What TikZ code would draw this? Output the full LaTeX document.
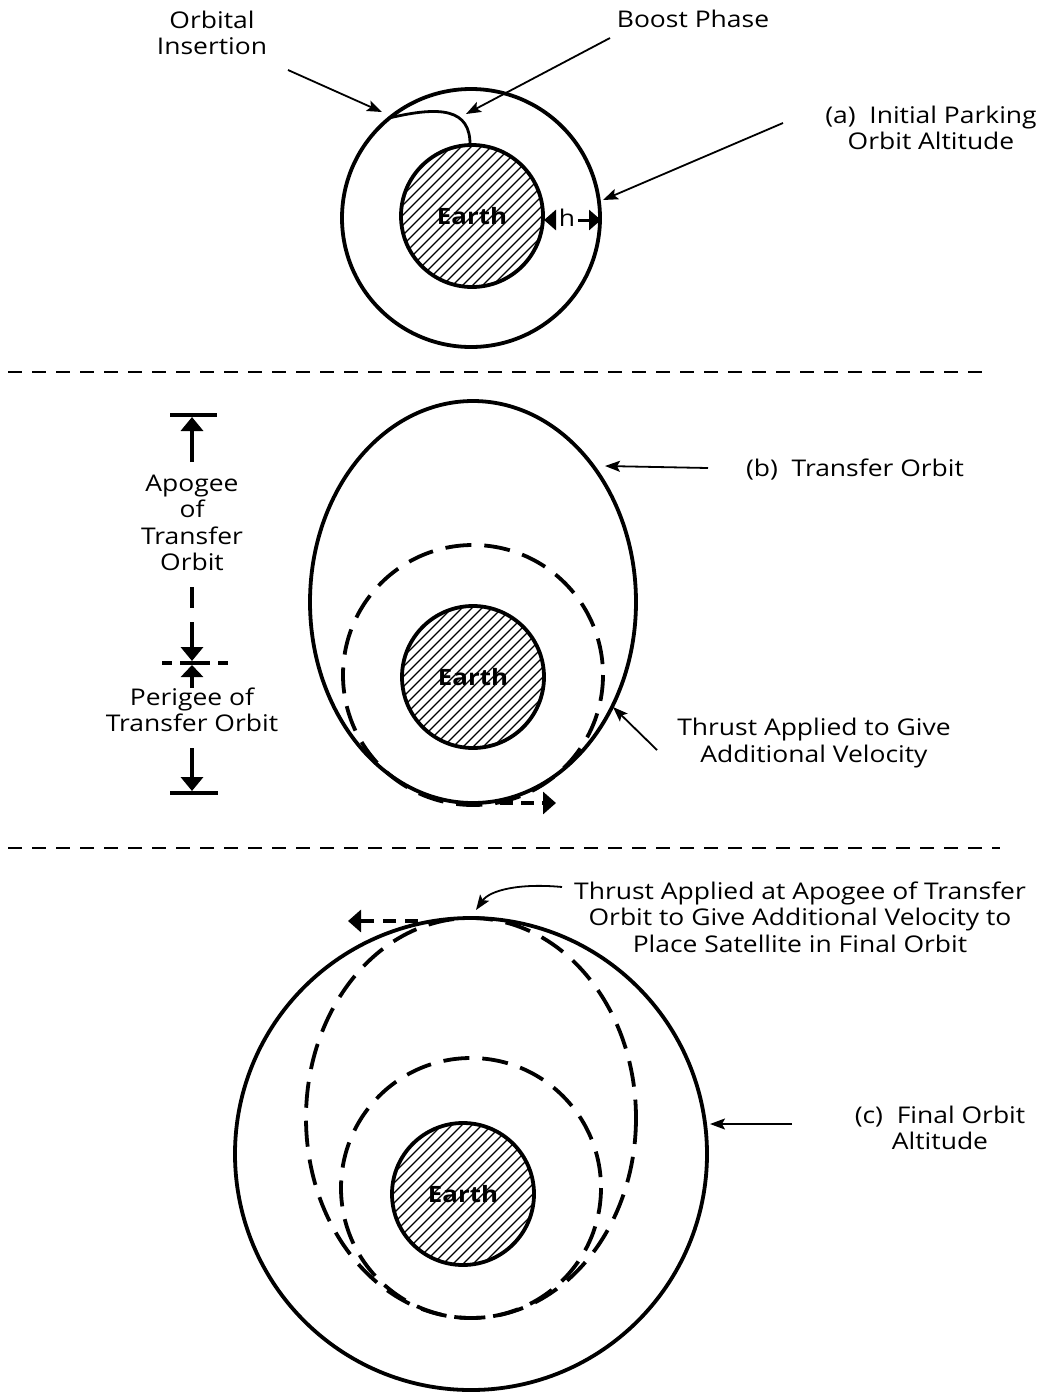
\documentclass[tikz,border=0pt]{standalone}
\usepackage{fontspec}
\setmainfont{Open Sans}[FakeStretch=1.15]
\usetikzlibrary{arrows.meta}
\newcommand\earthdisk[3]{%
  \begin{scope}
    \clip (#2,#3) circle[radius=71];
    \foreach \k in {-170,-160,...,170} {
      \draw[line width=1.3pt] (#2+\k-90,#3+90) -- (#2+\k+90,#3-90);
    }
  \end{scope}
  \draw[earthline] (#2,#3) circle[radius=71];
  \node[earthlbl] (#1) at (#2,#3) {Earth};
}
\begin{document}
\begin{tikzpicture}[x=1pt,y=-1pt,
  orbit/.style={line width=3.8pt},
  dorbit/.style={line width=3.8pt, dash pattern=on 26pt off 13pt},
  earthline/.style={line width=3.8pt},
  earthlbl/.style={font=\fontsize{22.5}{26}\selectfont\bfseries, inner sep=0pt},
  leader/.style={line width=1.8pt, -{Stealth[length=15pt,width=11pt,inset=3pt]}},
  bigarrow/.style={line width=3.8pt, -{Triangle[length=14pt,width=22pt]}},
  dimbar/.style={line width=3.8pt},
  lbl/.style={font=\fontsize{23}{26.5}\selectfont, align=center, inner sep=0pt},
  sep/.style={line width=2.6pt, dash pattern=on 14pt off 10pt}]
\useasboundingbox (0,0) rectangle (1044,1393);

% ---------------- panel (a)
\draw[orbit] (471,218) circle[radius=129];
\earthdisk{earthA}{472}{216}
\coordinate (insA) at (389,118);
\coordinate (boostA) at (470,146);
\draw[line width=2.8pt] (insA) .. controls (440,106) and (471,108) .. (boostA);
\node[lbl] (insLbl) at (212,33) {Orbital\\Insertion};
\node[lbl] (boostLbl) at (693,19) {Boost Phase};
\node[lbl] (aLbl) at (931,128) {(a)\ \ Initial Parking\\Orbit Altitude};
\coordinate (insS) at (288,70);  \coordinate (insE) at (382,112);
\coordinate (boostS) at (610,38); \coordinate (boostE) at (466,114);
\coordinate (aS) at (783,123);   \coordinate (aE) at (603,200);
\draw[leader] (insS) -- (insE);
\draw[leader] (boostS) -- (boostE);
\draw[leader] (aS) -- (aE);
\node[lbl] (hLbl) at (567,218) {h};
\coordinate (hL) at (544,220); \coordinate (hR) at (601,220);
\draw[line width=3pt, -{Triangle[length=12pt,width=20pt]}] (hLbl.west) ++(-3,2) -- (hL);
\draw[line width=3pt, -{Triangle[length=12pt,width=20pt]}] (hLbl.east) ++(3,2) -- (hR);

% ---------------- separators
\coordinate (s1a) at (8,372); \coordinate (s1b) at (990,372);
\coordinate (s2a) at (8,848); \coordinate (s2b) at (1000,848);
\draw[sep] (s1a) -- (s1b);
\draw[sep] (s2a) -- (s2b);

% ---------------- panel (b)
\draw[orbit] (473,602) ellipse[x radius=163, y radius=201];
\draw[dorbit] (473,675) circle[radius=130];
\earthdisk{earthB}{473}{677}
\coordinate (perS) at (500,803); \coordinate (perE) at (556,803);
\draw[line width=3.8pt, dash pattern=on 13pt off 8pt, -{Triangle[length=13pt,width=22pt]}] (perS) -- (perE);
\node[lbl] (bLbl) at (855,470) {(b)\ \ Transfer Orbit};
\coordinate (bS) at (708,468); \coordinate (bE) at (605,466);
\draw[leader] (bS) -- (bE);
\node[lbl] (thrB) at (814,743) {Thrust Applied to Give\\Additional Velocity};
\coordinate (thrBS) at (657,750); \coordinate (thrBE) at (613,707);
\draw[leader] (thrBS) -- (thrBE);

% left dimension
\coordinate (apTopL) at (170,415); \coordinate (apTopR) at (217,415);
\draw[dimbar] (apTopL) -- (apTopR);
\node[lbl] (apLbl) at (192,523) {Apogee\\of\\Transfer\\Orbit};
\coordinate (apUpS) at (192,462); \coordinate (apUpE) at (192,417);
\draw[bigarrow] (apUpS) -- (apUpE);
\coordinate (apDa) at (192,587); \coordinate (apDb) at (192,608);
\draw[dimbar] (apDa) -- (apDb);
\coordinate (apDnS) at (192,622); \coordinate (apDnE) at (192,661);
\draw[bigarrow] (apDnS) -- (apDnE);
\coordinate (midL) at (162,663); \coordinate (midR) at (228,663);
\draw[line width=3.8pt, dash pattern=on 10pt off 8pt on 30pt off 8pt on 10pt off 8pt] (midL) -- (midR);
\coordinate (peUpS) at (192,688); \coordinate (peUpE) at (192,665);
\draw[line width=3.8pt, -{Triangle[length=12pt,width=22pt]}] (peUpS) -- (peUpE);
\node[lbl] (peLbl) at (192,710) {Perigee of\\Transfer Orbit};
\coordinate (peDnS) at (192,748); \coordinate (peDnE) at (192,791);
\draw[bigarrow] (peDnS) -- (peDnE);
\coordinate (peBotL) at (170,793); \coordinate (peBotR) at (218,793);
\draw[dimbar] (peBotL) -- (peBotR);

% ---------------- panel (c)
\draw[orbit] (471,1154) circle[radius=236];
\draw[dorbit] (471,1118) ellipse[x radius=165, y radius=200];
\draw[dorbit] (471,1188) circle[radius=130];
\earthdisk{earthC}{463}{1194}
\coordinate (apcS) at (418,921); \coordinate (apcE) at (348,921);
\draw[line width=3.8pt, dash pattern=on 13pt off 9pt, -{Triangle[length=13pt,width=22pt]}] (apcS) -- (apcE);
\node[lbl] (thrC) at (800,917) {Thrust Applied at Apogee of Transfer\\Orbit to Give Additional Velocity to\\Place Satellite in Final Orbit};
\coordinate (thrCS) at (562,887); \coordinate (thrCE) at (476,910);
\draw[leader] (thrCS) .. controls (520,883) and (490,890) .. (thrCE);
\node[lbl] (cLbl) at (940,1128) {(c)\ \ Final Orbit\\Altitude};
\coordinate (cS) at (792,1124); \coordinate (cE) at (710,1124);
\draw[leader] (cS) -- (cE);
\end{tikzpicture}
\end{document}
